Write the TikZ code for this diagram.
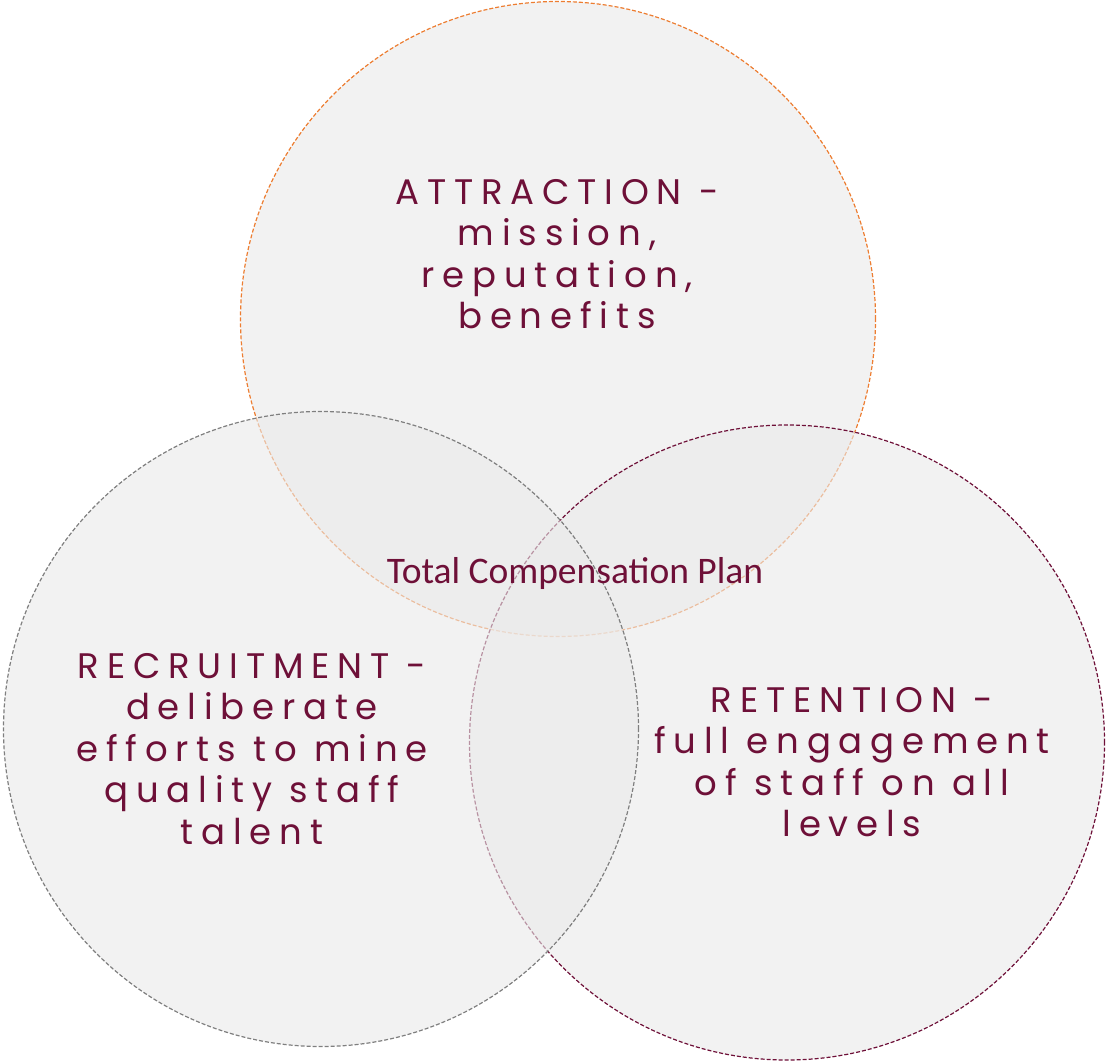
\documentclass[tikz,border=0pt]{standalone}
\usepackage{fontspec}
\setmainfont{Poppins}
\newfontfamily\labelfont[LetterSpace=22]{Poppins}
\newfontfamily\centerfont{Carlito}
\definecolor{maroon}{RGB}{110,16,56}
\definecolor{ringorange}{RGB}{237,125,49}
\definecolor{ringgray}{RGB}{127,127,127}
\definecolor{ringfill}{RGB}{234,234,234}
\tikzset{
  ring/.style={circle, minimum size=635pt, inner sep=0pt, fill=ringfill, fill opacity=0.6, line width=1.2pt, dash pattern=on 4pt off 2pt},
  bigtext/.style={font=\labelfont\fontsize{35.5}{41.5}\selectfont, text=maroon, align=center, inner sep=0pt},
  midtext/.style={font=\centerfont\fontsize{37.5}{40}\selectfont, text=maroon, inner sep=0pt}
}
\begin{document}
\begin{tikzpicture}[x=1pt,y=-1pt]
\useasboundingbox (0,0) rectangle (1106,1062);
\node[ring, draw=ringorange] (attr) at (558,319) {};
\node[ring, draw=maroon] (ret) at (787,742.5) {};
\node[ring, draw=ringgray] (rec) at (321,729) {};
\node[bigtext] (attrtext) at (557,254) {ATTRACTION -\\mission,\\reputation,\\benefits};
\node[bigtext] (rectext) at (252,749) {RECRUITMENT -\\deliberate\\efforts to mine\\quality staff\\talent};
\node[bigtext] (rettext) at (852,762) {RETENTION -\\full engagement\\of staff on all\\levels};
\node[midtext, anchor=base] (tcp) at (575,583) {Total Compensation Plan};
\end{tikzpicture}
\end{document}
